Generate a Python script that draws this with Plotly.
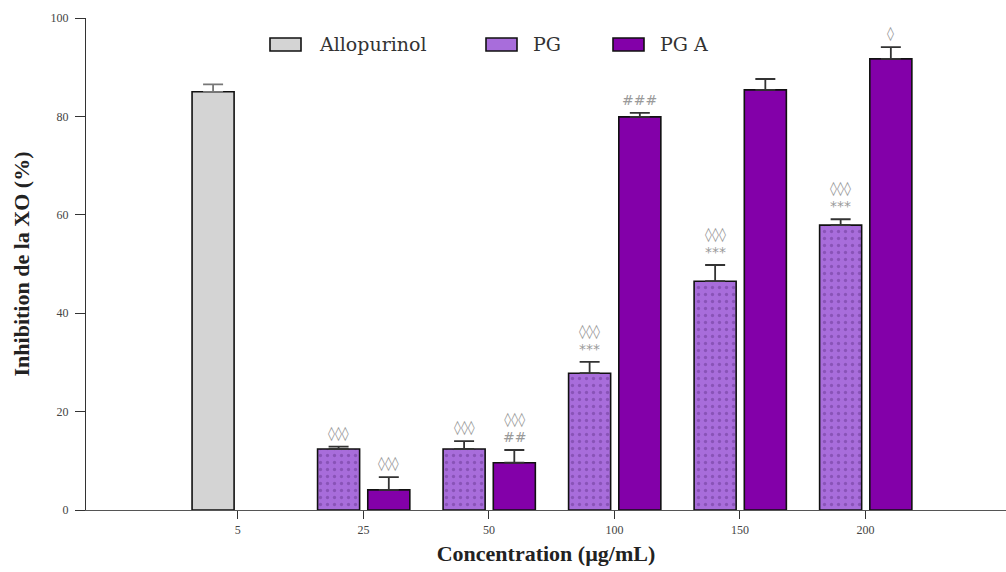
import plotly.graph_objects as go

# ---------------- data ----------------
concentrations = ["5", "25", "50", "100", "150", "200"]
allopurinol = [85.0, None, None, None, None, None]
allopurinol_err = [1.5, None, None, None, None, None]
pg = [None, 12.4, 12.4, 27.8, 46.5, 57.9]
pg_err = [None, 0.5, 1.6, 2.3, 3.3, 1.2]
pga = [None, 4.1, 9.6, 79.9, 85.4, 91.7]
pga_err = [None, 2.6, 2.6, 0.8, 2.2, 2.4]
pg_marks = ["", "◊◊◊", "◊◊◊", "◊◊◊<br>***", "◊◊◊<br>***", "◊◊◊<br>***"]
pga_marks = ["", "◊◊◊", "◊◊◊<br>##", "###", "", "◊"]
y_ticks = [0, 20, 40, 60, 80, 100]

# ---------------- style ----------------
W, H = 1006, 572
ML, MR, MT, MB = 86, 0, 18, 62
C_ALLO = "#d4d4d4"
C_PG = "#a86ddb"
C_PGA = "#8300a9"
BAR_W = 0.335
OFF_L = -0.365
OFF_R = 0.035
SERIF = "Liberation Serif, Times New Roman, serif"

fig = go.Figure()

def add_bar(name, vals, errs, color, offset, err_color, pattern=None):
    xs = [c for c, v in zip(concentrations, vals) if v is not None]
    ys = [v for v in vals if v is not None]
    es = [e for v, e in zip(vals, errs) if v is not None]
    marker = dict(color=color, line=dict(color="#111111", width=1.6))
    if pattern:
        marker["pattern"] = pattern
    fig.add_trace(go.Bar(
        name=name, x=xs, y=ys, width=BAR_W, offset=offset,
        marker=marker,
        error_y=dict(type="data", symmetric=False, array=es,
                     arrayminus=[0] * len(es), visible=True,
                     color=err_color, thickness=1.8, width=10),
        showlegend=False,
    ))

add_bar("Allopurinol", allopurinol, allopurinol_err, C_ALLO, OFF_L, "#777777")
add_bar("PG", pg, pg_err, C_PG, OFF_L, "#333333",
        pattern=dict(shape=".", fgcolor="#6a3a94", size=7, solidity=0.18))
add_bar("PG A", pga, pga_err, C_PGA, OFF_R, "#333333")

# significance marks
def add_marks(vals, errs, marks, off):
    for i, (v, e, t) in enumerate(zip(vals, errs, marks)):
        if v is not None and t:
            fig.add_annotation(x=i + off + BAR_W / 2, y=v + e, xref="x", yref="y",
                               text=t, showarrow=False, yanchor="bottom", yshift=3,
                               font=dict(family="DejaVu Sans, sans-serif", size=14,
                                         color="#9a9a9a"))

add_marks(pg, pg_err, pg_marks, OFF_L)
add_marks(pga, pga_err, pga_marks, OFF_R)

# manual legend (pixel -> paper)
PW = W - ML - MR
PH = H - MT - MB
def px(xp):
    return (xp - ML) / PW
def py(yp):
    return (H - MB - yp) / PH

legend_items = [("Allopurinol", C_ALLO, 270, 317), ("PG", C_PG, 486, 531), ("PG A", C_PGA, 613, 658)]
for name, col, sx, tx in legend_items:
    fig.add_shape(type="rect", xref="paper", yref="paper",
                  x0=px(sx), x1=px(sx + 31), y0=py(51), y1=py(38),
                  fillcolor=col, line=dict(color="#111111", width=1.6))
    fig.add_annotation(xref="paper", yref="paper", x=px(tx), y=py(44),
                       xanchor="left", yanchor="middle", text=name, showarrow=False,
                       font=dict(family="DejaVu Serif, serif", size=19, color="#333333"))

fig.update_layout(
    width=W, height=H,
    margin=dict(l=ML, r=MR, t=MT, b=MB),
    plot_bgcolor="white", paper_bgcolor="white",
    barmode="overlay",
    showlegend=False,
    font=dict(family=SERIF, color="#333333"),
)
fig.update_xaxes(
    type="category", categoryorder="array", categoryarray=concentrations,
    range=[-1.21, 6.12],
    showline=True, linecolor="#555555", linewidth=1.2,
    ticks="outside", ticklen=8, tickwidth=1.3, tickcolor="#333333",
    tickfont=dict(family=SERIF, size=12, color="#444444"),
    showgrid=False, zeroline=False,
    title=dict(text="<b>Concentration (µg/mL)</b>", standoff=10,
               font=dict(family=SERIF, size=22, color="#222222")),
)
fig.update_yaxes(
    range=[0, 100], tickvals=y_ticks,
    showline=True, linecolor="#333333", linewidth=1.4,
    ticks="outside", ticklen=10, tickwidth=1.4, tickcolor="#333333",
    ticklabelstandoff=4,
    tickfont=dict(family=SERIF, size=12, color="#444444"),
    showgrid=False, zeroline=False,
    title=dict(text="<b>Inhibition de la XO (%)</b>", standoff=14,
               font=dict(family=SERIF, size=22, color="#222222")),
)

fig.write_html("out.html", config={"displayModeBar": False},
               post_script="document.body.style.margin='0';document.body.style.overflow='hidden';")
